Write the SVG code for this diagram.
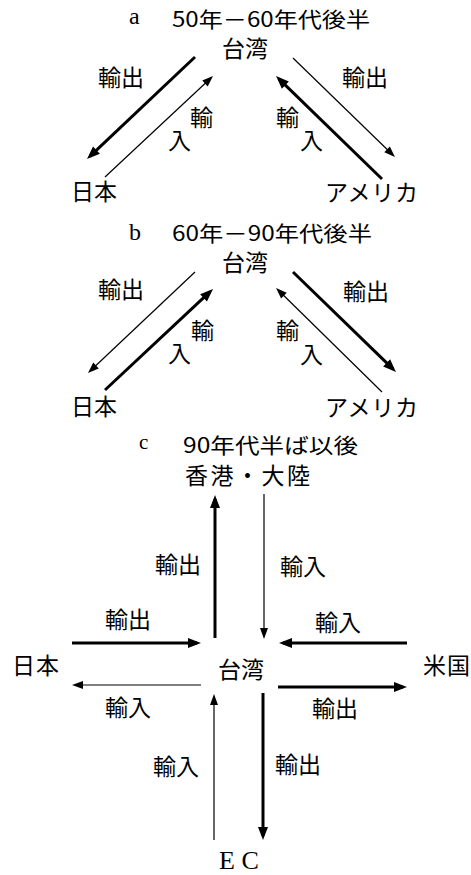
<svg xmlns="http://www.w3.org/2000/svg" width="471" height="875" viewBox="0 0 471 875">
<style>
  text { font-family: "Noto Sans CJK JP", "Noto Sans", sans-serif; font-size: 23px; fill: #000; }
  .ttl { font-size: 21px; }
  .lt { font-family: "Liberation Serif", serif; font-size: 24px; }
  .thick { stroke: #000; stroke-width: 3; fill: none; marker-end: url(#hk); }
  .thin { stroke: #000; stroke-width: 1.2; fill: none; marker-end: url(#hn); }
</style>
<defs>
  <marker id="hk" markerUnits="userSpaceOnUse" markerWidth="13" markerHeight="10" refX="9" refY="5" orient="auto" overflow="visible">
    <path d="M0,0 L13,5 L0,10 Z" fill="#000"/>
  </marker>
  <marker id="hn" markerUnits="userSpaceOnUse" markerWidth="11" markerHeight="8" refX="7" refY="4" orient="auto" overflow="visible">
    <path d="M0,0 L11,4 L0,8 Z" fill="#000"/>
  </marker>
</defs>
<rect width="471" height="875" fill="#fff"/>

<g id="title-a">
  <text class="lt" x="129" y="24">a</text>
  <text class="ttl" x="172" y="27" textLength="198" lengthAdjust="spacingAndGlyphs">50年－60年代後半</text>
</g>
<g id="a-taiwan"><text x="222" y="57">台湾</text></g>
<g id="a-japan"><text x="71" y="200">日本</text></g>
<g id="a-usa"><text x="325" y="201" textLength="93" lengthAdjust="spacing">アメリカ</text></g>

<g id="title-b">
  <text class="lt" x="129" y="240">b</text>
  <text class="ttl" x="172" y="241" textLength="200" lengthAdjust="spacingAndGlyphs">60年－90年代後半</text>
</g>
<g id="b-taiwan"><text x="222" y="271">台湾</text></g>
<g id="b-japan"><text x="71" y="415">日本</text></g>
<g id="b-usa"><text x="325" y="416" textLength="93" lengthAdjust="spacing">アメリカ</text></g>

<g id="title-c">
  <text class="lt" x="139" y="449" style="font-size:21px">c</text>
  <text class="ttl" x="183" y="453" textLength="175" lengthAdjust="spacingAndGlyphs">90年代半ば以後</text>
</g>
<g id="c-hk"><text x="185" y="484" textLength="125" lengthAdjust="spacing">香港・大陸</text></g>
<g id="c-japan"><text x="12" y="674" textLength="47" lengthAdjust="spacing">日本</text></g>
<g id="c-taiwan"><text x="218" y="678">台湾</text></g>
<g id="c-usa"><text x="423" y="674" textLength="47" lengthAdjust="spacing">米国</text></g>
<g id="c-ec"><text class="lt" x="219" y="869" style="font-size:26px">E C</text></g>

<g id="connectors">
  <line class="thick" x1="195" y1="57" x2="89.9" y2="156.3"/>
  <line class="thin" x1="105" y1="177" x2="210.1" y2="78.7"/>
  <line class="thin" x1="293" y1="58" x2="392.1" y2="154.2"/>
  <line class="thick" x1="382" y1="179" x2="278.9" y2="78.8"/>
  <line class="thin" x1="195" y1="272" x2="90.9" y2="370.3"/>
  <line class="thick" x1="105" y1="390" x2="210.1" y2="291.7"/>
  <line class="thick" x1="293" y1="272" x2="393.1" y2="369.2"/>
  <line class="thin" x1="382" y1="392" x2="278.9" y2="290.8"/>
  <line class="thick" x1="215" y1="638" x2="215" y2="499"/>
  <line class="thin" x1="264" y1="494" x2="264" y2="635"/>
  <line class="thick" x1="72" y1="643" x2="197" y2="643"/>
  <line class="thick" x1="407" y1="643" x2="283" y2="643"/>
  <line class="thin" x1="201" y1="685" x2="76" y2="685"/>
  <line class="thick" x1="278" y1="687" x2="403" y2="687"/>
  <line class="thin" x1="214" y1="840" x2="214" y2="698"/>
  <line class="thick" x1="263" y1="693" x2="263" y2="836"/>
</g>

<g id="labels">
  <text x="98" y="86">輸出</text>
  <text x="190" y="126">輸</text>
  <text x="168" y="149">入</text>
  <text x="342" y="86">輸出</text>
  <text x="276" y="126">輸</text>
  <text x="300" y="149">入</text>
  <text x="98" y="298">輸出</text>
  <text x="191" y="339">輸</text>
  <text x="168" y="362">入</text>
  <text x="343" y="300">輸出</text>
  <text x="276" y="339">輸</text>
  <text x="300" y="363">入</text>
  <text x="155" y="573">輸出</text>
  <text x="280" y="575">輸入</text>
  <text x="105" y="628">輸出</text>
  <text x="315" y="631">輸入</text>
  <text x="105" y="716">輸入</text>
  <text x="312" y="717">輸出</text>
  <text x="153" y="775">輸入</text>
  <text x="275" y="773">輸出</text>
</g>
</svg>
